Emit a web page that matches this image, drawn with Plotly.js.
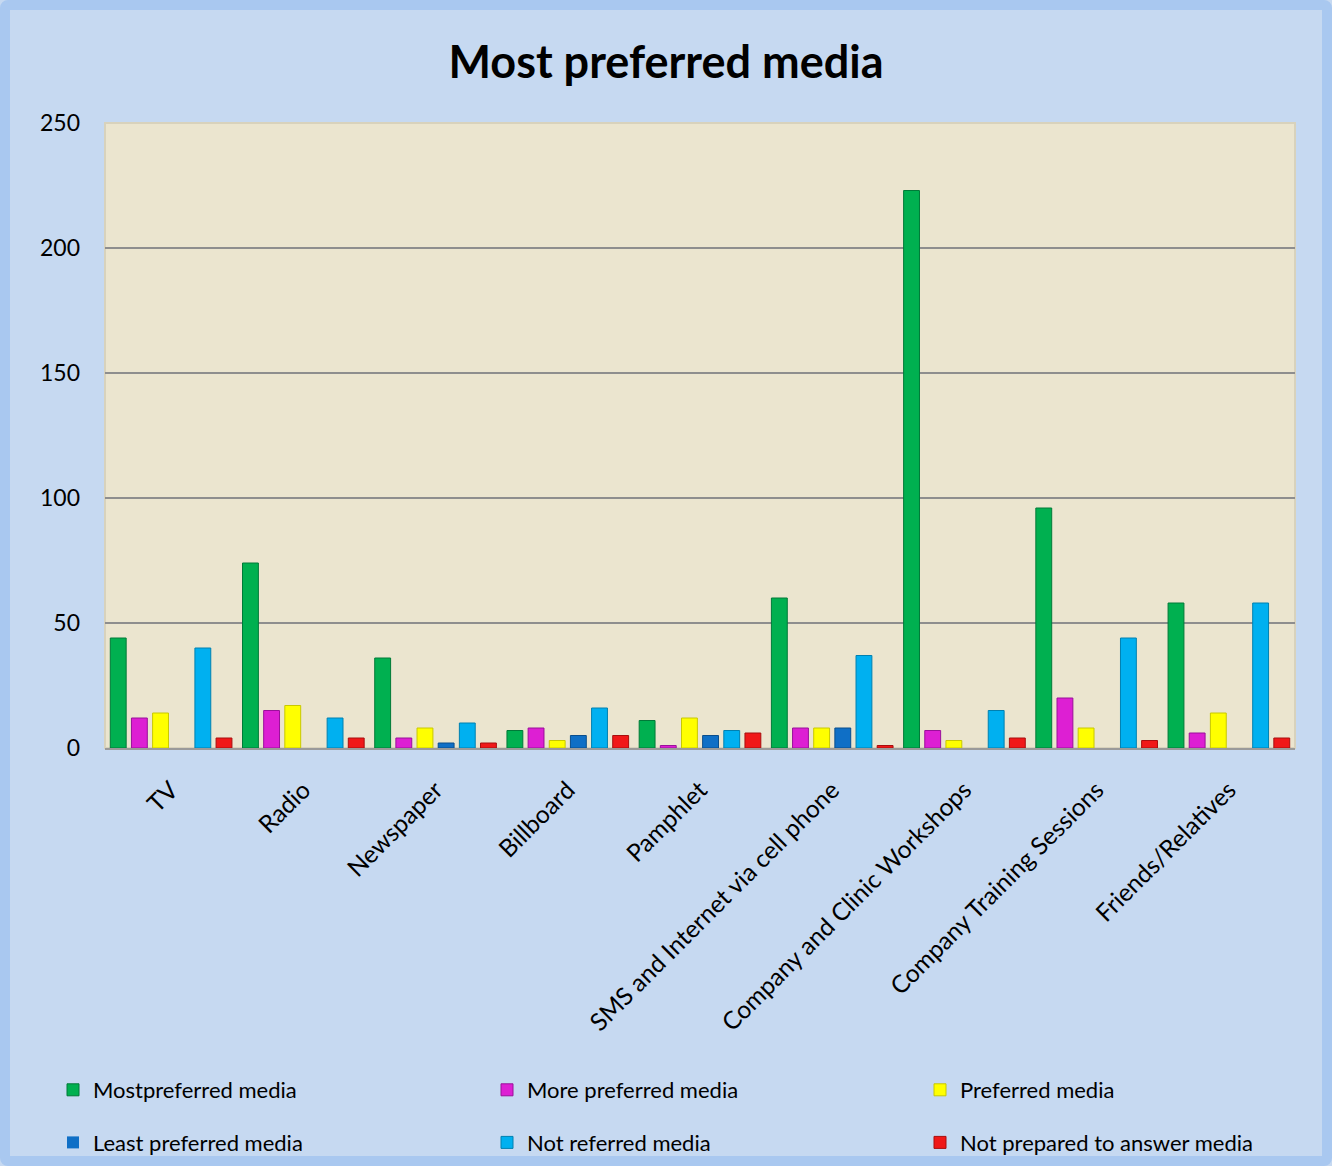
<!DOCTYPE html>
<html>
<head>
<meta charset="utf-8">
<script src="https://cdn.plot.ly/plotly-3.0.1.min.js"></script>
<style>
  html, body { margin: 0; padding: 0; background: #C6D9F1; }
  #wrap { position: relative; width: 1332px; height: 1166px; }
  #chart { position: absolute; left: 0; top: 0; width: 1332px; height: 1166px; }
  #frame { position: absolute; left: 0; top: 0; width: 1332px; height: 1166px; box-sizing: border-box;
           border: 10px solid #A9C8F0; border-radius: 8px; pointer-events: none; }
</style>
</head>
<body>
<div id="wrap"><div id="chart"></div><div id="frame"></div></div>
<script>
const categories = ["TV", "Radio", "Newspaper", "Billboard", "Pamphlet",
  "SMS and Internet via cell phone", "Company and Clinic Workshops",
  "Company Training Sessions", "Friends/Relatives"];
const seriesNames = ["Mostpreferred media", "More preferred media", "Preferred media",
  "Least preferred media", "Not referred media", "Not prepared to answer media"];
const mostPreferred   = [44, 74, 36, 7, 11, 60, 223, 96, 58];
const morePreferred   = [12, 15, 4, 8, 1, 8, 7, 20, 6];
const preferred       = [14, 17, 8, 3, 12, 8, 3, 8, 14];
const leastPreferred  = [0, 0, 2, 5, 5, 8, 0, 0, 0];
const notReferred     = [40, 12, 10, 16, 7, 37, 15, 44, 58];
const notPrepared     = [4, 4, 2, 5, 6, 1, 4, 3, 4];
const yTicks = [0, 50, 100, 150, 200, 250];

const seriesValues = [mostPreferred, morePreferred, preferred, leastPreferred, notReferred, notPrepared];
const colors = ["#00B050", "#DD1FD3", "#FFFF00", "#0F6FC6", "#00B0F0", "#F01818"];
const lineColors = ["#007A38", "#9A109A", "#C8C800", "#0A4E8C", "#0080B0", "#A80E0E"];
const legendIds = ["legend", "legend2", "legend3"];

const traces = seriesValues.map((vals, i) => ({
  type: "bar",
  name: seriesNames[i],
  x: categories,
  y: vals,
  marker: { color: colors[i], line: { color: lineColors[i], width: vals.map(v => v ? 1 : 0) } },
  legend: legendIds[i % 3],
  legendgroup: "g" + i,
  hoverinfo: "x+y+name"
}));

const font = "Lato, 'Open Sans', sans-serif";
function makeLegend(px) {
  return {
    orientation: "v",
    xref: "container", yref: "container",
    x: px / 1332, y: 1 - 1069 / 1166,
    xanchor: "left", yanchor: "top",
    bgcolor: "rgba(0,0,0,0)",
    font: { family: font, size: 22, color: "#000" },
    traceorder: "grouped",
    tracegroupgap: 21,
    itemwidth: 30
  };
}

const layout = {
  width: 1332, height: 1166,
  margin: { l: 105, r: 37, t: 123, b: 418, autoexpand: false },
  paper_bgcolor: "#C6D9F1",
  plot_bgcolor: "#EBE5CF",
  barmode: "group",
  bargap: 0.04,
  bargroupgap: 0.25,
  title: {
    text: "<b>Most preferred media</b>",
    font: { family: font, size: 45, color: "#000" },
    x: 0.5, xanchor: "center",
    yref: "container", y: 1 - 62 / 1166, yanchor: "middle"
  },
  xaxis: {
    type: "category",
    tickangle: -45,
    tickfont: { family: font, size: 24.5, color: "#000" },
    showgrid: false,
    showline: true, linecolor: "#9A9A9A", linewidth: 2,
    ticks: "", ticklabelstandoff: 16
  },
  yaxis: {
    range: [0, 250],
    tickvals: yTicks,
    ticktext: yTicks.map(String),
    tickfont: { family: font, size: 23, color: "#000" },
    showgrid: true, gridcolor: "#8E8E8E", gridwidth: 1.5,
    zeroline: false,
    showline: false,
    ticks: "", ticklabelstandoff: 24
  },
  legend: makeLegend(53),
  legend2: makeLegend(487),
  legend3: makeLegend(920),
  shapes: [{
    type: "rect", xref: "paper", yref: "paper", x0: 0, x1: 1, y0: 0, y1: 1,
    line: { color: "#D8D2BC", width: 2 }, fillcolor: "rgba(0,0,0,0)", layer: "below"
  }]
};

Plotly.newPlot("chart", traces, layout, { displayModeBar: false, responsive: false });
</script>
</body>
</html>
